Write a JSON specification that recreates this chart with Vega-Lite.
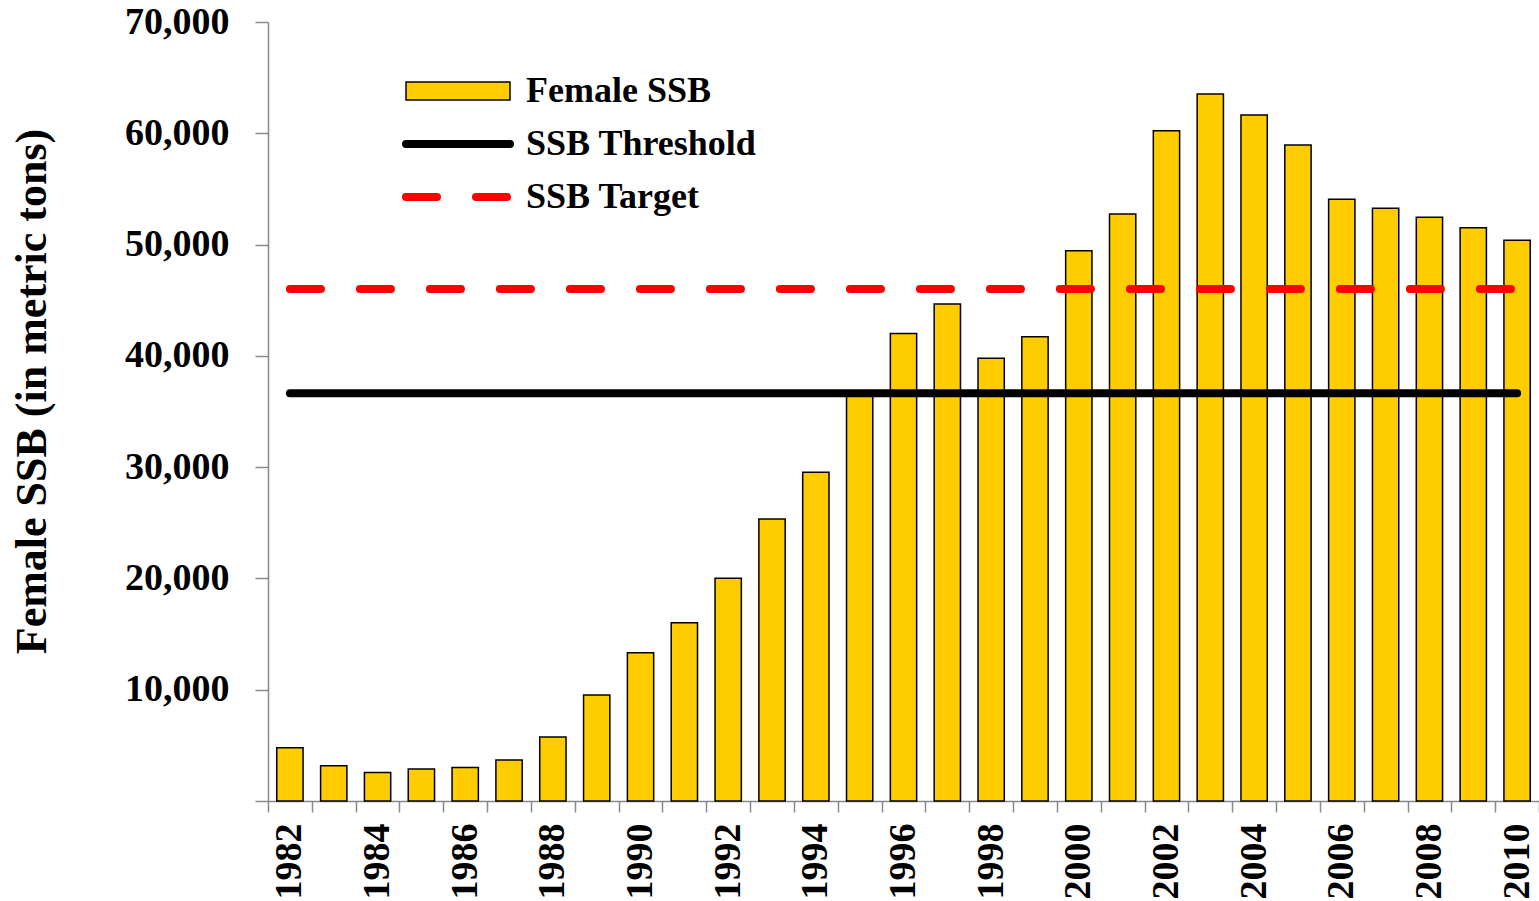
{
  "$schema": "https://vega.github.io/schema/vega-lite/v6.json",
  "width": 1271,
  "height": 779,
  "autosize": {"type": "none"},
  "padding": {"left": 268, "top": 22, "right": 0, "bottom": 100},
  "background": "white",
  "config": {
    "view": {"stroke": null},
    "font": "Liberation Serif",
    "legend": {"padding": 0}
  },
  "datasets": {
    "ssb": [
      {"year": 1982, "ssb": 4790},
      {"year": 1983, "ssb": 3170},
      {"year": 1984, "ssb": 2570},
      {"year": 1985, "ssb": 2870},
      {"year": 1986, "ssb": 3020},
      {"year": 1987, "ssb": 3680},
      {"year": 1988, "ssb": 5750},
      {"year": 1989, "ssb": 9520},
      {"year": 1990, "ssb": 13330},
      {"year": 1991, "ssb": 16020},
      {"year": 1992, "ssb": 20010},
      {"year": 1993, "ssb": 25340},
      {"year": 1994, "ssb": 29530},
      {"year": 1995, "ssb": 36500},
      {"year": 1996, "ssb": 42020},
      {"year": 1997, "ssb": 44660},
      {"year": 1998, "ssb": 39780},
      {"year": 1999, "ssb": 41720},
      {"year": 2000, "ssb": 49450},
      {"year": 2001, "ssb": 52750},
      {"year": 2002, "ssb": 60230},
      {"year": 2003, "ssb": 63530},
      {"year": 2004, "ssb": 61640},
      {"year": 2005, "ssb": 58950},
      {"year": 2006, "ssb": 54070},
      {"year": 2007, "ssb": 53260},
      {"year": 2008, "ssb": 52450},
      {"year": 2009, "ssb": 51520},
      {"year": 2010, "ssb": 50380}
    ],
    "refs": [
      {"series": "SSB Threshold", "year": 1982, "value": 36630},
      {"series": "SSB Threshold", "year": 2010, "value": 36630},
      {"series": "SSB Target", "year": 1982, "value": 46000},
      {"series": "SSB Target", "year": 2010, "value": 46000}
    ]
  },
  "layer": [
    {
      "data": {"name": "ssb"},
      "mark": {"type": "bar", "stroke": "#000000", "strokeWidth": 1.5, "width": {"band": 0.6}},
      "encoding": {
        "x": {
          "field": "year",
          "type": "ordinal",
          "scale": {"paddingInner": 0, "paddingOuter": 0},
          "axis": {
            "title": null,
            "labelAngle": 270,
            "labelExpr": "datum.value % 2 == 0 ? datum.label : ''",
            "labelOverlap": false,
            "tickBand": "extent",
            "tickSize": 11,
            "labelPadding": 11,
            "labelFont": "Liberation Serif",
            "labelFontSize": 38,
            "labelFontWeight": "bold",
            "labelColor": "#000000",
            "domainColor": "#888888",
            "domainWidth": 1.5,
            "tickColor": "#888888",
            "tickWidth": 1.5
          }
        },
        "y": {
          "field": "ssb",
          "type": "quantitative",
          "scale": {"domain": [0, 70000], "nice": false},
          "axis": {
            "title": "Female SSB (in metric tons)",
            "values": [0, 10000, 20000, 30000, 40000, 50000, 60000, 70000],
            "format": ",d",
            "labelExpr": "datum.value == 0 ? '' : datum.label",
            "grid": false,
            "labelFlush": false,
            "tickSize": 13,
            "labelPadding": 26,
            "labelFont": "Liberation Serif",
            "labelFontSize": 38,
            "labelFontWeight": "bold",
            "labelColor": "#000000",
            "domainColor": "#888888",
            "domainWidth": 1.5,
            "tickColor": "#888888",
            "tickWidth": 1.5,
            "titleFont": "Liberation Serif",
            "titleFontSize": 44,
            "titleFontWeight": "bold",
            "titleColor": "#000000",
            "titleAngle": 270,
            "titleX": -236,
            "titleY": 369,
            "titleAlign": "center",
            "titleBaseline": "middle"
          }
        },
        "fill": {
          "datum": "Female SSB",
          "type": "nominal",
          "scale": {"range": ["#FFCC00"]},
          "legend": {
            "title": null,
            "orient": "none",
            "legendX": 130,
            "legendY": 51,
            "symbolType": "M-1,-0.9L9.4,-0.9L9.4,0.9L-1,0.9Z",
            "symbolSize": 400,
            "symbolStrokeColor": "#000000",
            "symbolStrokeWidth": 1.5,
            "labelOffset": 92,
            "labelLimit": 0,
            "labelFont": "Liberation Serif",
            "labelFontSize": 36,
            "labelFontWeight": "bold",
            "labelColor": "#000000"
          }
        }
      }
    },
    {
      "data": {"name": "refs"},
      "mark": {"type": "line", "strokeWidth": 8, "strokeCap": "round"},
      "encoding": {
        "x": {"field": "year", "type": "ordinal"},
        "y": {"field": "value", "type": "quantitative"},
        "stroke": {
          "field": "series",
          "type": "nominal",
          "scale": {"domain": ["SSB Threshold", "SSB Target"], "range": ["#000000", "#FF0000"]},
          "legend": {
            "title": null,
            "orient": "none",
            "legendX": 130,
            "legendY": 104,
            "symbolType": "M-1,0L9.4,0",
            "symbolSize": 400,
            "symbolStrokeWidth": 8,
            "symbolFillColor": "transparent",
            "rowPadding": 17,
            "labelOffset": 92,
            "labelLimit": 0,
            "labelFont": "Liberation Serif",
            "labelFontSize": 36,
            "labelFontWeight": "bold",
            "labelColor": "#000000",
            "encode": {"symbols": {"update": {"strokeCap": {"value": "round"}}}}
          }
        },
        "strokeDash": {
          "field": "series",
          "type": "nominal",
          "scale": {"domain": ["SSB Threshold", "SSB Target"], "range": [[1, 0], [31, 39]]},
          "legend": {
            "title": null,
            "orient": "none",
            "legendX": 130,
            "legendY": 104,
            "symbolType": "M-1,0L9.4,0",
            "symbolSize": 400,
            "symbolStrokeWidth": 8,
            "symbolFillColor": "transparent",
            "rowPadding": 17,
            "labelOffset": 92,
            "labelLimit": 0,
            "labelFont": "Liberation Serif",
            "labelFontSize": 36,
            "labelFontWeight": "bold",
            "labelColor": "#000000",
            "encode": {"symbols": {"update": {"strokeCap": {"value": "round"}}}}
          }
        }
      }
    }
  ]
}
